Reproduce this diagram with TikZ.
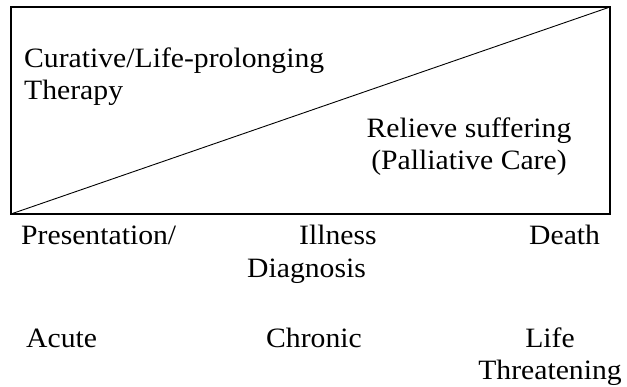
\documentclass[tikz,border=0pt]{standalone}
\usepackage{fontspec}
\setmainfont{Liberation Serif}[FakeStretch=1.06]
\begin{document}
\begin{tikzpicture}[x=1pt, y=-1pt,
    lbl/.style={inner sep=0pt, font=\fontsize{28}{32}\selectfont}]
  \useasboundingbox (0,0) rectangle (627,387);
  \coordinate (bl) at (11,214);
  \coordinate (tr) at (610,7);
  \draw[line width=2pt] (bl) rectangle (tr);
  \draw[line width=0.9pt] (bl) -- (tr);
  \node[lbl, anchor=base west, align=left] (cure) at (24,100)
    {Curative/Life-prolonging\\Therapy};
  \node[lbl, anchor=base, align=center] (relief) at (469,170)
    {Relieve suffering\\(Palliative Care)};
  \node[lbl, anchor=base west] (present) at (21,245) {Presentation/};
  \node[lbl, anchor=base west] (illness) at (299,245) {Illness};
  \node[lbl, anchor=base west] (diag) at (247,278) {Diagnosis};
  \node[lbl, anchor=base west] (death) at (529,245) {Death};
  \node[lbl, anchor=base west] (acute) at (26,348) {Acute};
  \node[lbl, anchor=base west] (chronic) at (266,348) {Chronic};
  \node[lbl, anchor=base, align=center] (life) at (550,380)
    {Life\\Threatening};
\end{tikzpicture}
\end{document}
